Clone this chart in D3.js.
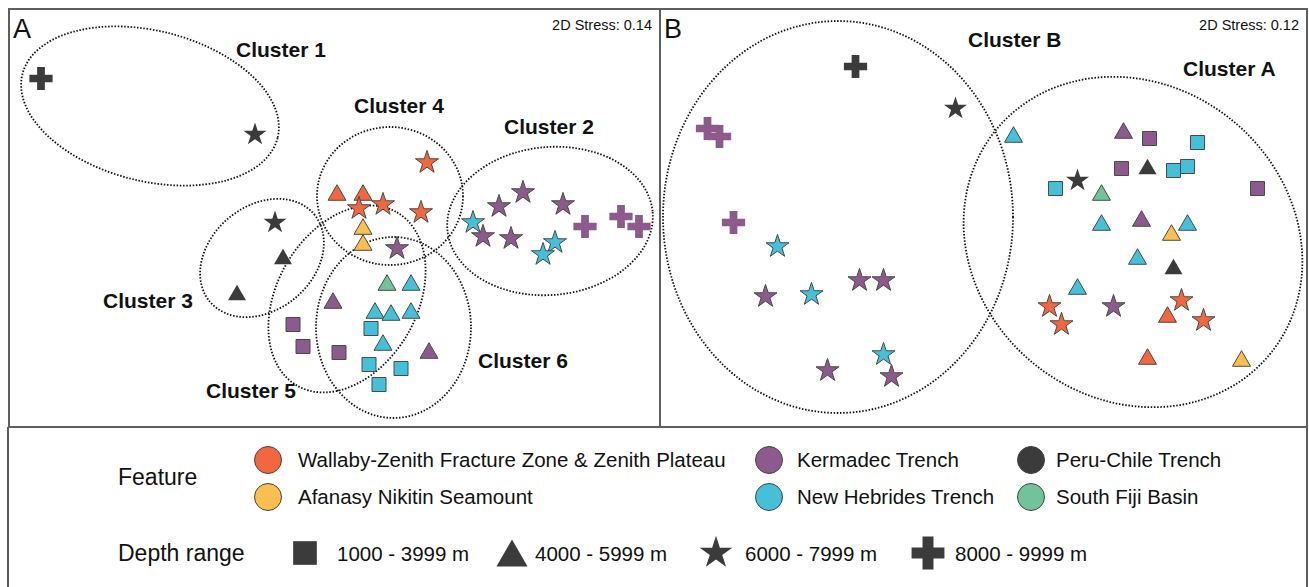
<!DOCTYPE html>
<html>
<head>
<meta charset="utf-8">
<script src="https://cdn.jsdelivr.net/npm/d3@7"></script>
<style>
  body { margin: 0; background: #fff; }
  text { font-family: "Liberation Sans", Arial, Helvetica, sans-serif; fill: #111; }
</style>
</head>
<body>
<div id="chart"></div>
<script>
// features (colour groups) and depth ranges (symbol groups)
const featureCodes = ["WZ", "AN", "KT", "NH", "PC", "SF"];
const featureNames = ["Wallaby-Zenith Fracture Zone & Zenith Plateau", "Afanasy Nikitin Seamount",
                      "Kermadec Trench", "New Hebrides Trench", "Peru-Chile Trench", "South Fiji Basin"];
const featureColors = ["#f2673f", "#fbbf4f", "#8c5a8c", "#44c0d9", "#3b3b3b", "#72c29b"];
const depthNames = ["1000 - 3999 m", "4000 - 5999 m", "6000 - 7999 m", "8000 - 9999 m"];

// nMDS ordination A: [dim1, dim2, feature, depth index]
const pointsA = [
  [-1.47, 0.70, "PC", 3], [-0.40, 0.42, "PC", 2], [-0.30, -0.02, "PC", 2], [-0.26, -0.19, "PC", 1], [-0.49, -0.37, "PC", 1],
  [0.46, 0.28, "WZ", 2], [0.01, 0.13, "WZ", 1], [0.14, 0.13, "WZ", 1], [0.12, 0.05, "WZ", 2], [0.24, 0.07, "WZ", 2], [0.43, 0.03, "WZ", 2],
  [0.14, -0.04, "AN", 1], [0.14, -0.12, "AN", 1],
  [0.38, -0.32, "NH", 1], [0.20, -0.46, "NH", 1], [0.28, -0.47, "NH", 1], [0.38, -0.46, "NH", 1], [0.18, -0.55, "NH", 0], [0.24, -0.62, "NH", 1],
  [0.17, -0.73, "NH", 0], [0.33, -0.75, "NH", 0], [0.22, -0.83, "NH", 0],
  [0.69, -0.02, "NH", 2], [1.10, -0.12, "NH", 2], [1.04, -0.18, "NH", 2],
  [0.26, -0.32, "SF", 1],
  [0.31, -0.15, "KT", 2], [-0.01, -0.41, "KT", 1], [-0.21, -0.53, "KT", 0], [-0.16, -0.64, "KT", 0], [0.02, -0.67, "KT", 0], [0.47, -0.66, "KT", 1],
  [0.82, 0.06, "KT", 2], [0.94, 0.13, "KT", 2], [1.14, 0.07, "KT", 2], [0.74, -0.09, "KT", 2], [0.88, -0.10, "KT", 2],
  [1.25, -0.04, "KT", 3], [1.43, 0.01, "KT", 3], [1.52, -0.04, "KT", 3]
];

// nMDS ordination B
const pointsB = [
  [-0.64, 0.76, "PC", 3], [-0.14, 0.55, "PC", 2], [0.47, 0.19, "PC", 2], [0.82, 0.26, "PC", 1], [0.95, -0.24, "PC", 1],
  [-1.03, -0.14, "NH", 2], [-0.86, -0.38, "NH", 2], [-0.50, -0.68, "NH", 2],
  [0.15, 0.42, "NH", 1], [0.59, -0.02, "NH", 1], [1.02, -0.02, "NH", 1], [0.77, -0.19, "NH", 1], [0.47, -0.34, "NH", 1],
  [1.07, 0.38, "NH", 0], [0.95, 0.24, "NH", 0], [1.02, 0.26, "NH", 0], [0.36, 0.15, "NH", 0],
  [-1.38, 0.45, "KT", 3], [-1.32, 0.41, "KT", 3], [-1.25, -0.02, "KT", 3],
  [-1.09, -0.39, "KT", 2], [-0.62, -0.31, "KT", 2], [-0.50, -0.31, "KT", 2], [-0.78, -0.76, "KT", 2], [-0.46, -0.79, "KT", 2], [0.65, -0.44, "KT", 2],
  [0.70, 0.44, "KT", 1], [0.79, 0.00, "KT", 1],
  [0.83, 0.40, "KT", 0], [0.69, 0.25, "KT", 0], [1.37, 0.15, "KT", 0],
  [0.59, 0.13, "SF", 1],
  [0.94, -0.07, "AN", 1], [1.29, -0.70, "AN", 1],
  [0.92, -0.48, "WZ", 1], [0.82, -0.69, "WZ", 1],
  [0.33, -0.44, "WZ", 2], [0.39, -0.53, "WZ", 2], [0.99, -0.41, "WZ", 2], [1.10, -0.51, "WZ", 2]
];

// cluster outlines (ellipses in ordination units) and label anchors
const clustersA = [
  {name: "Cluster 1", cx: -0.925, cy: 0.5625, rx: 0.6575, ry: 0.376, rot: 14, lx: -0.495, ly: 0.8075},
  {name: "Cluster 4", cx: 0.275, cy: 0.1125, rx: 0.365, ry: 0.345, rot: 0, lx: 0.095, ly: 0.5275},
  {name: "Cluster 2", cx: 1.075, cy: -0.0125, rx: 0.515, ry: 0.37, rot: -5, lx: 0.845, ly: 0.4225},
  {name: "Cluster 3", cx: -0.365, cy: -0.1975, rx: 0.34, ry: 0.26, rot: -40, lx: -1.16, ly: -0.4475},
  {name: "Cluster 5", cx: 0.06, cy: -0.4025, rx: 0.5, ry: 0.35, rot: -60, lx: -0.645, ly: -0.8975},
  {name: "Cluster 6", cx: 0.2925, cy: -0.545, rx: 0.3875, ry: 0.4525, rot: 0, lx: 0.715, ly: -0.7475}
];
const clustersB = [
  {name: "Cluster B", cx: -0.7275, cy: 0.0075, rx: 0.875, ry: 0.98, rot: 0, lx: -0.0775, ly: 0.8575},
  {name: "Cluster A", cx: 0.7475, cy: -0.1175, rx: 0.885, ry: 0.785, rot: 39, lx: 0.9975, ly: 0.7125}
];

const W = 1309, H = 587;
const svg = d3.select("#chart").append("svg")
    .attr("width", W)
    .attr("height", H);

var frameA = {left: 9, right: 660, top: 9, bottom: 427};
var frameB = {left: 660, right: 1307, top: 9, bottom: 427};

var xA = d3.scaleLinear().domain([-1.63, 1.625]).range([frameA.left, frameA.right]);
var yA = d3.scaleLinear().domain([-1.0425, 1.0475]).range([frameA.bottom, frameA.top]);
var xB = d3.scaleLinear().domain([-1.6175, 1.6175]).range([frameB.left, frameB.right]);
var yB = yA.copy();

var color = d3.scaleOrdinal().domain(featureCodes).range(featureColors);
var shapes = [d3.symbolSquare, d3.symbolTriangle, d3.symbolStar, d3.symbolCross];
var sizes = [196, 140, 165, 300];

// d3 triangles sit on their centroid; shift them so the box is centred
function shift(depth, size) {
  return depth === 1 ? Math.sqrt(size / (Math.sqrt(3) * 3)) / 2 : 0;
}

function drawPanel(pts, clusters, x, y, frame, letter, stress) {
  var g = svg.append("g");

  // dotted cluster outlines
  clusters.forEach(function(c) {
    var cx = x(c.cx), cy = y(c.cy);
    g.append("ellipse")
      .attr("cx", cx).attr("cy", cy)
      .attr("rx", x(c.cx + c.rx) - cx)
      .attr("ry", y(c.cy - c.ry) - cy)
      .attr("transform", "rotate(" + c.rot + "," + cx + "," + cy + ")")
      .attr("fill", "none")
      .attr("stroke", "#111")
      .attr("stroke-width", 1.8)
      .attr("stroke-dasharray", "1.5,1.7");
  });

  // samples
  g.selectAll(".pt")
      .data(pts)
    .enter().append("path")
      .attr("class", "pt")
      .attr("d", function(d) { return d3.symbol().type(shapes[d[3]]).size(sizes[d[3]])(); })
      .attr("transform", function(d) {
        return "translate(" + x(d[0]) + "," + (y(d[1]) + shift(d[3], sizes[d[3]])) + ")";
      })
      .attr("fill", function(d) { return color(d[2]); })
      .attr("stroke", function(d) { return (d[3] === 3 || d[2] === "PC") ? "none" : "#4a4a4a"; })
      .attr("stroke-width", 1);

  // cluster names
  g.selectAll(".clab")
      .data(clusters)
    .enter().append("text")
      .attr("x", function(c) { return x(c.lx); })
      .attr("y", function(c) { return y(c.ly); })
      .style("font-size", "21px")
      .style("font-weight", "bold")
      .text(function(c) { return c.name; });

  g.append("text")
      .attr("x", frame.left + 4)
      .attr("y", frame.top + 29)
      .style("font-size", "27px")
      .text(letter);

  g.append("text")
      .attr("x", frame.right - 8)
      .attr("y", frame.top + 21)
      .attr("text-anchor", "end")
      .style("font-size", "14.5px")
      .text(stress);

  g.append("rect")
      .attr("x", frame.left).attr("y", frame.top)
      .attr("width", frame.right - frame.left)
      .attr("height", frame.bottom - frame.top)
      .attr("fill", "none")
      .attr("stroke", "#5e5e5e")
      .attr("stroke-width", 2);
}

drawPanel(pointsA, clustersA, xA, yA, frameA, "A", "2D Stress: 0.14");
drawPanel(pointsB, clustersB, xB, yB, frameB, "B", "2D Stress: 0.12");

// legend box
svg.append("path")
    .attr("d", "M8,427V" + (H + 2) + "M" + frameB.right + ",427V" + (H + 2))
    .attr("stroke", "#5e5e5e")
    .attr("stroke-width", 2)
    .attr("fill", "none");

var legend = svg.append("g");

legend.append("text").attr("x", 118).attr("y", 485).style("font-size", "23px").text("Feature");
legend.append("text").attr("x", 118).attr("y", 561).style("font-size", "23px").text("Depth range");

// feature legend: 3 columns x 2 rows
var colX = [268, 769, 1031], textX = [298, 797, 1056], rowY = [460, 497];
featureCodes.forEach(function(code, i) {
  var col = Math.floor(i / 2), row = i % 2;
  legend.append("circle")
      .attr("cx", colX[col]).attr("cy", rowY[row]).attr("r", 13.5)
      .attr("fill", color(code))
      .attr("stroke", "#444").attr("stroke-width", 1);
  legend.append("text")
      .attr("x", textX[col]).attr("y", rowY[row] + 7)
      .style("font-size", "20.5px")
      .text(featureNames[i]);
});

// depth legend
var symX = [305, 512, 716, 928], symText = [337, 535, 745, 955], symSize = [560, 420, 330, 600];
depthNames.forEach(function(name, i) {
  legend.append("path")
      .attr("d", d3.symbol().type(shapes[i]).size(symSize[i])())
      .attr("transform", "translate(" + symX[i] + "," + (553 + shift(i, symSize[i])) + ")")
      .attr("fill", "#3b3b3b");
  legend.append("text")
      .attr("x", symText[i]).attr("y", 561)
      .style("font-size", "20.5px")
      .text(name);
});
</script>
</body>
</html>
